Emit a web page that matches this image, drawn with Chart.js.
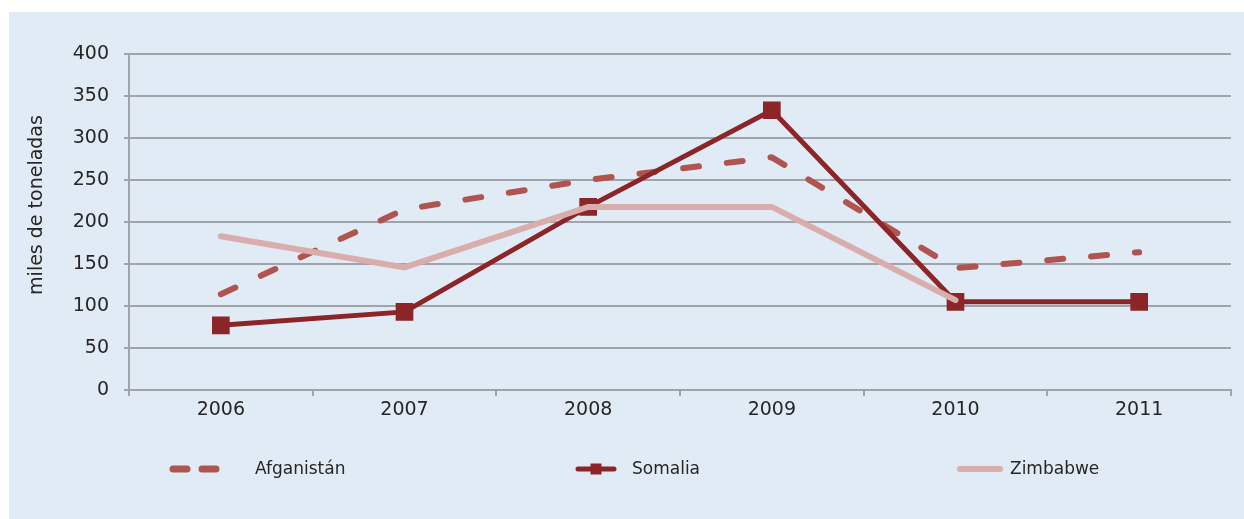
<!DOCTYPE html>
<html>
<head>
<meta charset="utf-8">
<script src="https://cdn.jsdelivr.net/npm/chart.js@4"></script>
<style>
    body { margin: 0; background: #ffffff; width: 1244px; height: 519px; overflow: hidden; }
    #wrap { position: absolute; left: 9px; top: 12px; width: 1235px; height: 507px; background: #e1ebf5; }
</style>
</head>
<body>
<div id="wrap"><canvas id="chart" width="1235" height="507"></canvas></div>
<script>
// ==============================
//  DATA
// ==============================
const years = ["2006", "2007", "2008", "2009", "2010", "2011"];
const afganistan = [114, 215, 250, 277, 145, 164];
const somalia = [77, 93, 218, 333, 105, 105];
const zimbabwe = [183, 146, 218, 218, 107, null];
const yTicks = [0, 50, 100, 150, 200, 250, 300, 350, 400];
const yTitle = "miles de toneladas";

const COLORS = {
    afg: "#b05450",
    som: "#8b2528",
    zim: "#d9adab",
    grid: "#a0a4aa",
    text: "#262626"
};

// ==============================
//  CUSTOM LEGEND + AXIS TITLE (drawn on canvas)
// ==============================
const legendPlugin = {
    id: "customLegend",
    afterDraw(chart) {
        const ctx = chart.ctx;
        const y = 457;
        ctx.save();

        // y axis title, placed a bit above the plot's middle like the original
        ctx.save();
        ctx.translate(28, 193);
        ctx.rotate(-Math.PI / 2);
        ctx.font = "19px 'DejaVu Sans'";
        ctx.fillStyle = COLORS.text;
        ctx.textAlign = "center";
        ctx.textBaseline = "middle";
        ctx.fillText(yTitle, 0, 0);
        ctx.restore();

        ctx.font = "17px 'DejaVu Sans'";
        ctx.fillStyle = COLORS.text;
        ctx.textBaseline = "middle";

        // Afganistán: two dashes
        ctx.strokeStyle = COLORS.afg;
        ctx.lineWidth = 7;
        ctx.lineCap = "round";
        ctx.beginPath();
        ctx.moveTo(164, y); ctx.lineTo(178, y);
        ctx.moveTo(193, y); ctx.lineTo(207, y);
        ctx.stroke();
        ctx.fillText("Afganistán", 246, y + 1);

        // Somalia: line + square
        ctx.strokeStyle = COLORS.som;
        ctx.lineWidth = 5;
        ctx.beginPath();
        ctx.moveTo(569, y); ctx.lineTo(605, y);
        ctx.stroke();
        ctx.fillStyle = COLORS.som;
        ctx.fillRect(587 - 5.5, y - 5.5, 11, 11);
        ctx.fillStyle = COLORS.text;
        ctx.fillText("Somalia", 623, y + 1);

        // Zimbabwe
        ctx.strokeStyle = COLORS.zim;
        ctx.lineWidth = 6;
        ctx.beginPath();
        ctx.moveTo(951, y); ctx.lineTo(991, y);
        ctx.stroke();
        ctx.fillText("Zimbabwe", 1001, y + 1);
        ctx.restore();
    }
};

// ==============================
//  CHART
// ==============================
const ctx = document.getElementById("chart").getContext("2d");

new Chart(ctx, {
    type: "line",
    data: {
        labels: years,
        datasets: [
            {
                label: "Afganistán",
                data: afganistan,
                borderColor: COLORS.afg,
                borderWidth: 6,
                borderDash: [16, 28],
                borderCapStyle: "round",
                borderJoinStyle: "round",
                pointRadius: 0,
                tension: 0,
                order: 2
            },
            {
                label: "Somalia",
                data: somalia,
                borderColor: COLORS.som,
                backgroundColor: COLORS.som,
                borderWidth: 5,
                borderJoinStyle: "miter",
                pointStyle: "rect",
                pointRadius: 12.5,
                pointBorderWidth: 0,
                pointBackgroundColor: COLORS.som,
                tension: 0,
                order: 1
            },
            {
                label: "Zimbabwe",
                data: zimbabwe,
                borderColor: COLORS.zim,
                borderWidth: 6,
                borderCapStyle: "round",
                borderJoinStyle: "miter",
                pointRadius: 0,
                spanGaps: false,
                tension: 0,
                order: 0
            }
        ]
    },
    options: {
        responsive: false,
        animation: false,
        layout: { padding: { top: 42, right: 13, left: 0, bottom: 0 } },
        plugins: {
            legend: { display: false },
            tooltip: { enabled: false }
        },
        scales: {
            x: {
                offset: true,
                afterFit: s => { s.height = 129; },
                grid: {
                    offset: true,
                    drawOnChartArea: false,
                    drawTicks: true,
                    tickLength: 6,
                    color: COLORS.grid,
                    lineWidth: 2
                },
                border: { color: COLORS.grid, width: 2 },
                ticks: {
                    color: COLORS.text,
                    font: { family: "DejaVu Sans", size: 19 },
                    padding: 3,
                    maxRotation: 0
                }
            },
            y: {
                min: 0,
                max: 400,
                afterFit: s => { s.width = 120; },
                afterBuildTicks: s => { s.ticks = yTicks.map(v => ({ value: v })); },
                grid: {
                    color: COLORS.grid,
                    lineWidth: 2,
                    tickLength: 5
                },
                border: { color: COLORS.grid, width: 2 },
                ticks: {
                    color: COLORS.text,
                    font: { family: "DejaVu Sans", size: 19 },
                    padding: 15
                }
            }
        }
    },
    plugins: [legendPlugin]
});
</script>
</body>
</html>
